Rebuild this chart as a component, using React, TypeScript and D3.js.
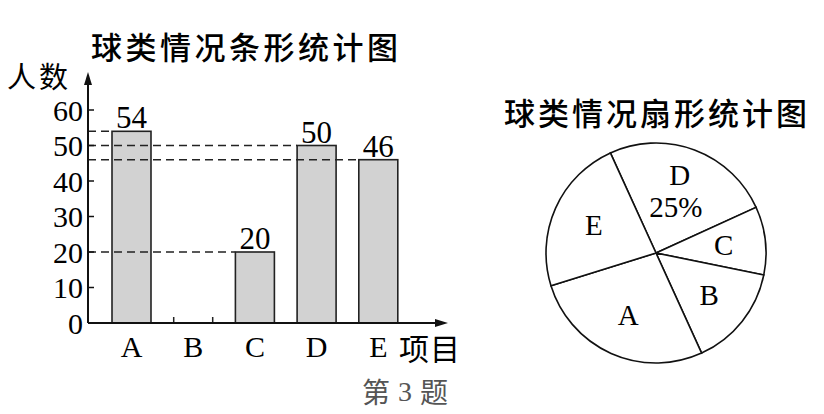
import React from "react"
import { scaleLinear, scaleBand, pie, arc, PieArcDatum } from "d3"

const categories = ["A", "B", "C", "D", "E"]
const barValues: (number | null)[] = [54, null, 20, 50, 46]
const yTicks = [0, 10, 20, 30, 40, 50, 60]

const pieCategories = ["D", "C", "B", "A", "E"]
const pieValues = [50, 20, 30, 54, 46]
const pieNotes: Record<string, string> = { D: "25%" }

const barTitle = "球类情况条形统计图"
const pieTitle = "球类情况扇形统计图"

const serif = "'Liberation Serif', 'DejaVu Serif', serif"
const cjk = "'Noto Sans CJK SC', sans-serif"

export default function App() {
  // 条形图
  const originX = 88
  const y = scaleLinear().domain([0, 60]).range([323, 110])
  const x = scaleBand()
    .domain(categories)
    .range([100.65, 409.15])
    .paddingInner(0.368)
    .paddingOuter(0.184)
  const xEnd = 448
  const yTop = 72

  // 扇形图
  const cx = 656
  const cy = 253
  const radius = 110
  const slices = pie<number>()
    .sort(null)
    .startAngle((-24.5 * Math.PI) / 180)
    .endAngle((335.5 * Math.PI) / 180)(pieValues)
  const sliceArc = arc<PieArcDatum<number>>().innerRadius(0).outerRadius(radius)
  const labelArc = arc<PieArcDatum<number>>().innerRadius(136).outerRadius(0)

  return (
    <svg
      width={824}
      height={414}
      style={{ position: "fixed", left: 0, top: 0, background: "#fff" }}
    >
      <text
        x={91}
        y={45}
        dominantBaseline="central"
        fontFamily={cjk}
        fontWeight={500}
        fontSize={31}
        letterSpacing={3.5}
      >
        {barTitle}
      </text>
      <text x={7} y={75} dominantBaseline="central" fontFamily={cjk} fontSize={29} letterSpacing={3}>
        人数
      </text>

      {/* 条形 */}
      {categories.map((c, i) => {
        const v = barValues[i]
        const bx = x(c)!
        if (v == null || v === 0) {
          return (
            <g key={c} stroke="#222" strokeWidth={1.5}>
              <line x1={bx} x2={bx} y1={y(0)} y2={y(0) - 6} />
              <line x1={bx + x.bandwidth()} x2={bx + x.bandwidth()} y1={y(0)} y2={y(0) - 6} />
            </g>
          )
        }
        return (
          <rect
            key={c}
            x={bx}
            y={y(v)}
            width={x.bandwidth()}
            height={y(0) - y(v)}
            fill="#d2d2d2"
            stroke="#222"
            strokeWidth={1.6}
          />
        )
      })}

      {/* 虚线 */}
      {categories.map((c, i) => {
        const v = barValues[i]
        if (v == null || v === 0) return null
        return (
          <line
            key={c}
            x1={originX}
            x2={x(c)!}
            y1={y(v)}
            y2={y(v)}
            stroke="#222"
            strokeWidth={1.5}
            strokeDasharray="8,5"
          />
        )
      })}

      {/* 数值 */}
      {categories.map((c, i) => {
        const v = barValues[i]
        if (v == null || v === 0) return null
        return (
          <text
            key={c}
            x={x(c)! + x.bandwidth() / 2}
            y={y(v) - 3}
            textAnchor="middle"
            fontFamily={serif}
            fontSize={31}
          >
            {v}
          </text>
        )
      })}

      {/* Y 轴 */}
      <line x1={originX} x2={originX} y1={y(0)} y2={yTop + 8} stroke="#111" strokeWidth={2} />
      <path d={`M${originX},${yTop} L${originX - 4},${yTop + 13} L${originX + 4},${yTop + 13} Z`} fill="#111" />
      {yTicks.map((t) => (
        <g key={t}>
          {t > 0 && (
            <line x1={originX} x2={originX + 6} y1={y(t)} y2={y(t)} stroke="#111" strokeWidth={1.5} />
          )}
          <text
            x={originX - 5}
            y={y(t)}
            dy=".35em"
            textAnchor="end"
            fontFamily={serif}
            fontSize={30}
          >
            {t}
          </text>
        </g>
      ))}

      {/* X 轴 */}
      <line x1={originX} x2={xEnd - 8} y1={y(0)} y2={y(0)} stroke="#111" strokeWidth={2} />
      <path d={`M${xEnd},${y(0)} L${xEnd - 13},${y(0) - 4} L${xEnd - 13},${y(0) + 4} Z`} fill="#111" />
      {categories.map((c) => (
        <text
          key={c}
          x={x(c)! + x.bandwidth() / 2}
          y={357}
          textAnchor="middle"
          fontFamily={serif}
          fontSize={30}
        >
          {c}
        </text>
      ))}
      <text x={399} y={347} dominantBaseline="central" fontFamily={cjk} fontSize={30} letterSpacing={1}>
        项目
      </text>
      <text x={362} y={391} dominantBaseline="central" fontFamily={cjk} fontSize={28} fill="#555">
        第
        <tspan fontFamily={serif} dx={8}>3</tspan>
        <tspan dx={8}>题</tspan>
      </text>

      {/* 扇形图 */}
      <text
        x={657}
        y={111}
        textAnchor="middle"
        dominantBaseline="central"
        fontFamily={cjk}
        fontWeight={500}
        fontSize={31}
        letterSpacing={3}
      >
        {pieTitle}
      </text>
      <g transform={`translate(${cx},${cy})`}>
        {slices.map((s, i) => (
          <path key={pieCategories[i]} d={sliceArc(s)!} fill="#fff" stroke="#111" strokeWidth={1.6} />
        ))}
        {slices.map((s, i) => {
          const c = pieCategories[i]
          const [lx, ly] = labelArc.centroid(s)
          const note = pieNotes[c]
          return (
            <g key={c} fontFamily={serif} fontSize={29} textAnchor="middle">
              <text x={lx} y={note ? ly - 14 : ly} dy=".35em">
                {c}
              </text>
              {note && (
                <text x={lx - 4} y={ly + 18} dy=".35em">
                  {note}
                </text>
              )}
            </g>
          )
        })}
      </g>
    </svg>
  )
}
